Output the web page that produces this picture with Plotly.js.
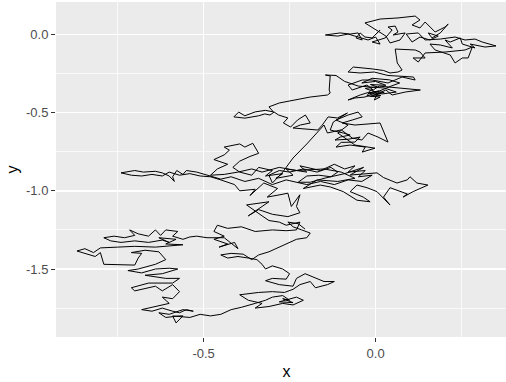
<!DOCTYPE html>
<html>
<head>
<meta charset="utf-8">
<script src="https://cdn.plot.ly/plotly-3.0.1.min.js"></script>
<style>
html,body{margin:0;padding:0;overflow:hidden;background:#fff;}
#chart{width:524px;height:382px;}
</style>
</head>
<body>
<div id="chart"></div>
<script>
// Random-walk path as [x, y] pairs, in drawing order
const segTopRight = [
[0.000,0.000],[0.013,0.029],[-0.010,-0.022],[-0.031,-0.016],[-0.045,0.010],[-0.057,-0.022],
[-0.039,-0.035],[-0.051,0.010],[-0.074,0.003],[-0.103,0.010],[-0.146,-0.003],[-0.110,-0.010],
[-0.080,0.003],[-0.060,-0.010],[-0.022,-0.035],[0.000,-0.016],[0.013,-0.061],[-0.010,-0.048],
[0.028,-0.022],[0.048,0.029],[0.036,0.048],[0.057,0.054],[0.065,0.016],[0.051,-0.003],
[0.086,0.010],[0.071,-0.035],[0.042,-0.054],[0.030,-0.010],[-0.031,0.074],[0.013,0.099],
[0.065,0.106],[0.115,0.118],[0.129,0.093],[0.106,0.061],[0.129,0.042],[0.144,0.080],
[0.173,0.016],[0.202,0.048],[0.211,0.067],[0.188,0.010],[0.164,-0.022],[0.153,0.010],
[0.182,-0.010],[0.158,-0.035],[0.129,-0.016],[0.106,-0.048],[0.089,0.003],[0.124,0.010],
[0.144,-0.035],[0.188,-0.029],[0.231,-0.016],[0.260,-0.035],[0.289,-0.029],[0.310,-0.048],
[0.350,-0.073],[0.318,-0.080],[0.275,-0.061],[0.289,-0.086],[0.252,-0.061],[0.246,-0.022],
[0.217,-0.048],[0.202,-0.035],[0.223,-0.086],[0.188,-0.067],[0.158,-0.061],[0.173,-0.099],
[0.217,-0.131],[0.231,-0.182],[0.252,-0.150],[0.269,-0.150],[0.275,-0.118],[0.281,-0.080],
[0.260,-0.099],[0.202,-0.112],[0.144,-0.118],[0.124,-0.176],[0.109,-0.150],[0.144,-0.150],
[0.129,-0.112],[0.115,-0.099],[0.057,-0.093],[0.063,-0.182],[0.077,-0.227],[0.065,-0.240]
];
const segUpperCluster = [
[0.042,-0.246],[0.023,-0.230],[-0.010,-0.220],[-0.036,-0.214],[-0.065,-0.208],[-0.080,-0.240],
[-0.045,-0.246],[-0.004,-0.240],[0.036,-0.262],[0.110,-0.272],[0.115,-0.291],[0.077,-0.272],
[0.036,-0.310],[-0.010,-0.291],[-0.039,-0.291],[-0.080,-0.323],[-0.068,-0.355],[-0.025,-0.323],
[-0.007,-0.355],[0.010,-0.330],[0.077,-0.342],[0.130,-0.355],[0.086,-0.368],[0.048,-0.387],
[0.030,-0.355],[0.004,-0.380],[-0.013,-0.350],[-0.025,-0.393],[0.013,-0.400],[-0.004,-0.419],
[0.010,-0.360],[-0.020,-0.375],[0.015,-0.390],[-0.015,-0.395],[0.025,-0.370],[-0.005,-0.365],
[-0.030,-0.345],[0.005,-0.335],[-0.015,-0.320],[0.030,-0.325],[0.000,-0.300],[-0.040,-0.310],
[-0.010,-0.280],[0.040,-0.290],[0.070,-0.310],[0.045,-0.330],
[-0.031,-0.400],[-0.060,-0.406],[-0.080,-0.419],[-0.045,-0.387],[-0.020,-0.370],[0.020,-0.380],
[0.060,-0.368],[0.025,-0.342],[-0.050,-0.330],[-0.090,-0.300],[-0.115,-0.262],[-0.125,-0.262]
];
const segCentre = [
[-0.146,-0.259],[-0.132,-0.265],[-0.135,-0.355],[-0.132,-0.374],[-0.140,-0.387],[-0.190,-0.400],
[-0.220,-0.412],[-0.280,-0.438],[-0.310,-0.463],[-0.297,-0.495],[-0.320,-0.485],[-0.350,-0.495],
[-0.380,-0.520],[-0.398,-0.496],[-0.412,-0.527],[-0.380,-0.535],[-0.340,-0.520],[-0.322,-0.508],
[-0.307,-0.515],[-0.295,-0.496],[-0.282,-0.515],[-0.255,-0.534],[-0.268,-0.566],[-0.247,-0.592],
[-0.227,-0.547],[-0.204,-0.515],[-0.190,-0.566],[-0.219,-0.579],[-0.240,-0.598],[-0.168,-0.611],
[-0.155,-0.579],[-0.138,-0.527],[-0.111,-0.534],[-0.082,-0.502],[-0.123,-0.560],[-0.132,-0.611],
[-0.094,-0.630],[-0.074,-0.643],[-0.103,-0.656],[-0.118,-0.675],[-0.080,-0.670],[-0.045,-0.656],
[-0.060,-0.688],[-0.100,-0.690],[-0.115,-0.720],[-0.074,-0.707],[-0.030,-0.720],[-0.039,-0.752],
[-0.002,-0.727],[-0.060,-0.707],[-0.110,-0.630],[-0.080,-0.579],[-0.115,-0.547],[-0.080,-0.515],
[-0.051,-0.496],[-0.039,-0.527],[-0.068,-0.547],[-0.097,-0.566],[-0.060,-0.579],[0.013,-0.566],
[0.036,-0.688],[0.007,-0.656],[-0.022,-0.630],[-0.040,-0.675],[-0.068,-0.662],[-0.100,-0.610],
[-0.140,-0.630],[-0.150,-0.579],[-0.200,-0.700],[-0.240,-0.790],[-0.270,-0.880],[-0.300,-0.950],
[-0.310,-0.900],[-0.280,-0.870]
];
const segMiddleBand = [
[-0.250,-0.880],[-0.210,-0.860],[-0.170,-0.880],[-0.130,-0.850],[-0.110,-0.880],[-0.130,-0.910],
[-0.165,-0.900],[-0.200,-0.905],[-0.225,-0.945],[-0.190,-0.945],[-0.150,-0.920],[-0.090,-0.890],
[-0.035,-0.850],[-0.074,-0.899],[0.004,-0.885],[0.023,-0.915],[0.062,-0.950],[0.092,-0.930],
[0.100,-0.910],[0.120,-0.950],[0.152,-0.963],[0.109,-1.005],[0.080,-1.040],[0.092,-1.020],
[0.042,-0.980],[0.023,-1.040],[0.042,-1.091],[0.004,-1.005],[-0.025,-0.980],[-0.054,-0.963],
[-0.074,-1.005],[-0.036,-1.040],[-0.016,-1.070],[-0.054,-1.060],[-0.094,-1.005],[-0.132,-0.975],
[-0.161,-0.963],[-0.210,-0.985],[-0.170,-0.930],[-0.110,-0.940],[-0.060,-0.920],[-0.100,-0.880],
[-0.150,-0.860],[-0.230,-0.870],[-0.280,-0.850],[-0.330,-0.880],[-0.360,-0.860],[-0.400,-0.880],
[-0.440,-0.895],[-0.480,-0.900],[-0.460,-0.860],[-0.430,-0.830],[-0.470,-0.800],[-0.440,-0.770],
[-0.425,-0.740],[-0.440,-0.720],[-0.395,-0.700],[-0.380,-0.720],[-0.357,-0.696],[-0.340,-0.760],
[-0.365,-0.780],[-0.395,-0.810],[-0.415,-0.850],[-0.395,-0.880],[-0.360,-0.900],[-0.340,-0.850],
[-0.300,-0.870],[-0.320,-0.905],[-0.270,-0.890],[-0.290,-0.920],[-0.240,-0.900],[-0.260,-0.860],
[-0.200,-0.880],[-0.220,-0.840],[-0.160,-0.870],[-0.120,-0.830],[-0.090,-0.860],[-0.060,-0.840],
[-0.080,-0.880],[-0.030,-0.870],[-0.050,-0.910],[-0.010,-0.900],[-0.040,-0.940],[-0.080,-0.930],
[-0.120,-0.960],[-0.160,-0.940],[-0.200,-0.960],[-0.260,-0.930],[-0.300,-0.960],[-0.340,-0.920],
[-0.380,-0.940],[-0.420,-0.910],[-0.450,-0.925]
];
const segLeftTail = [
[-0.480,-0.905],[-0.500,-0.890],[-0.520,-0.880],[-0.550,-0.870],[-0.560,-0.895],[-0.578,-0.870],
[-0.590,-0.910],[-0.585,-0.940],[-0.600,-0.905],[-0.620,-0.885],[-0.640,-0.875],[-0.675,-0.880],
[-0.700,-0.870],[-0.740,-0.885],[-0.710,-0.900],[-0.680,-0.905],[-0.650,-0.895],[-0.620,-0.905],
[-0.600,-0.880],[-0.570,-0.900],[-0.540,-0.890],[-0.510,-0.905],[-0.480,-0.910]
];
const segDescent = [
[-0.450,-0.930],[-0.410,-0.960],[-0.395,-1.000],[-0.350,-0.990],[-0.365,-1.030],[-0.325,-0.950],
[-0.285,-0.985],[-0.315,-1.040],[-0.278,-1.025],[-0.255,-1.015],[-0.245,-1.100],[-0.220,-1.025],
[-0.230,-1.100],[-0.220,-1.140],[-0.255,-1.165],[-0.300,-1.150],[-0.340,-1.120],[-0.370,-1.160],
[-0.310,-1.070],[-0.375,-1.090],[-0.330,-1.160],[-0.310,-1.190],[-0.280,-1.200],[-0.260,-1.220],
[-0.220,-1.200],[-0.230,-1.250],[-0.260,-1.255],[-0.300,-1.250],[-0.350,-1.260],[-0.390,-1.230],
[-0.430,-1.240],[-0.460,-1.220],[-0.470,-1.260],[-0.440,-1.290],[-0.470,-1.310],[-0.430,-1.340],
[-0.455,-1.360],[-0.410,-1.330],[-0.400,-1.370],[-0.440,-1.300],[-0.490,-1.300],[-0.520,-1.290],
[-0.540,-1.295]
];
const segLowerLeft = [
[-0.560,-1.310],[-0.590,-1.290],[-0.575,-1.260],[-0.610,-1.250],[-0.625,-1.285],[-0.640,-1.250],
[-0.660,-1.290],[-0.690,-1.275],[-0.715,-1.250],[-0.700,-1.285],[-0.730,-1.300],[-0.760,-1.290],
[-0.790,-1.300],[-0.770,-1.320],[-0.740,-1.330],[-0.700,-1.320],[-0.660,-1.330],[-0.620,-1.315],
[-0.600,-1.330],[-0.630,-1.300],[-0.580,-1.310],[-0.610,-1.340],[-0.560,-1.345],
[-0.640,-1.360],[-0.700,-1.355],[-0.750,-1.360],[-0.800,-1.365],[-0.820,-1.395],
[-0.845,-1.370],[-0.868,-1.385],[-0.840,-1.405],[-0.815,-1.420],[-0.800,-1.395],[-0.790,-1.470],
[-0.700,-1.475],[-0.690,-1.430],[-0.680,-1.400],[-0.710,-1.395],[-0.670,-1.380],[-0.630,-1.390],
[-0.610,-1.440],[-0.640,-1.470],[-0.690,-1.500],[-0.720,-1.510],[-0.680,-1.525],[-0.640,-1.500],
[-0.600,-1.495],[-0.575,-1.500],[-0.620,-1.530],[-0.670,-1.540],[-0.610,-1.560],[-0.570,-1.560],
[-0.590,-1.590],[-0.660,-1.590],[-0.710,-1.620],[-0.700,-1.640],[-0.640,-1.610],[-0.620,-1.640],
[-0.590,-1.600],[-0.570,-1.645],[-0.590,-1.690],[-0.620,-1.680],[-0.600,-1.720],[-0.640,-1.740],
[-0.680,-1.760],[-0.650,-1.770],[-0.620,-1.750],[-0.590,-1.770],[-0.570,-1.780],[-0.550,-1.760],
[-0.530,-1.770],[-0.560,-1.760],[-0.600,-1.790],[-0.630,-1.780],[-0.610,-1.810],[-0.570,-1.800],
[-0.560,-1.800],[-0.580,-1.845],[-0.590,-1.800],[-0.540,-1.810],[-0.510,-1.790],
[-0.480,-1.800],[-0.450,-1.790],[-0.420,-1.760],[-0.390,-1.745],[-0.350,-1.720],[-0.320,-1.700]
];
const segLowerRight = [
[-0.300,-1.680],[-0.270,-1.670],[-0.250,-1.700],[-0.270,-1.690],[-0.240,-1.715],[-0.280,-1.710],
[-0.230,-1.680],[-0.210,-1.700],[-0.240,-1.730],
[-0.270,-1.720],[-0.310,-1.740],[-0.350,-1.750],[-0.330,-1.720],[-0.370,-1.700],[-0.395,-1.665],
[-0.340,-1.650],[-0.300,-1.645],[-0.265,-1.650],[-0.240,-1.630],[-0.220,-1.600],[-0.190,-1.580],
[-0.175,-1.620],[-0.140,-1.600],[-0.120,-1.580],[-0.150,-1.580],[-0.190,-1.540],[-0.205,-1.530],
[-0.230,-1.560],[-0.240,-1.610],[-0.280,-1.600],[-0.320,-1.575],[-0.300,-1.560],[-0.260,-1.565],
[-0.250,-1.530],[-0.270,-1.500],[-0.300,-1.480],[-0.320,-1.500],[-0.330,-1.470],[-0.345,-1.440],
[-0.370,-1.430],[-0.400,-1.420],[-0.430,-1.430],[-0.450,-1.410],[-0.420,-1.400],[-0.385,-1.405],
[-0.360,-1.440],[-0.340,-1.410],[-0.310,-1.390],[-0.280,-1.360],[-0.250,-1.330],[-0.230,-1.310],
[-0.200,-1.300],[-0.190,-1.270],[-0.215,-1.250],[-0.240,-1.230],[-0.255,-1.200],[-0.225,-1.210],
[-0.205,-1.245]
];

const xTickVals = [-0.5, 0.0];
const xTickText = ['-0.5', '0.0'];
const yTickVals = [0.0, -0.5, -1.0, -1.5];
const yTickText = ['0.0', '-0.5', '-1.0', '-1.5'];
const xMinorVals = [-0.75, -0.25, 0.25];
const yMinorVals = [-0.25, -0.75, -1.25, -1.75];

const walk = [].concat(segTopRight, segUpperCluster, segCentre, segMiddleBand,
                       segLeftTail, segDescent, segLowerLeft, segLowerRight);

const trace = {
  x: walk.map(p => p[0]),
  y: walk.map(p => p[1]),
  type: 'scatter',
  mode: 'lines',
  line: {color: '#000000', width: 1},
  hoverinfo: 'skip'
};

const tickFont = {family: 'Liberation Sans, Arial, sans-serif', size: 13, color: '#4D4D4D'};
const titleFont = {family: 'Liberation Sans, Arial, sans-serif', size: 16, color: '#000000'};

const layout = {
  width: 524, height: 382,
  margin: {l: 56, r: 7, t: 2, b: 45},
  paper_bgcolor: '#FFFFFF',
  plot_bgcolor: '#EBEBEB',
  showlegend: false,
  xaxis: {
    range: [-0.929, 0.411],
    tickmode: 'array', tickvals: xTickVals, ticktext: xTickText,
    showgrid: true, gridcolor: '#FFFFFF', gridwidth: 1.4,
    minor: {tickmode: 'array', tickvals: xMinorVals, showgrid: true, gridcolor: '#FFFFFF', gridwidth: 0.7, ticks: ''},
    zeroline: false, showline: false,
    ticks: 'outside', ticklen: 4, tickwidth: 1, tickcolor: '#333333',
    tickfont: tickFont,
    title: {text: 'x', font: titleFont, standoff: 6},
    automargin: false
  },
  yaxis: {
    range: [-1.935, 0.208],
    tickmode: 'array', tickvals: yTickVals, ticktext: yTickText,
    showgrid: true, gridcolor: '#FFFFFF', gridwidth: 1.4,
    minor: {tickmode: 'array', tickvals: yMinorVals, showgrid: true, gridcolor: '#FFFFFF', gridwidth: 0.7, ticks: ''},
    zeroline: false, showline: false,
    ticks: 'outside', ticklen: 4, tickwidth: 1, tickcolor: '#333333',
    tickfont: tickFont,
    title: {text: 'y', font: titleFont, standoff: 3},
    automargin: false
  }
};

Plotly.newPlot('chart', [trace], layout, {staticPlot: true, displayModeBar: false});
</script>
</body>
</html>
